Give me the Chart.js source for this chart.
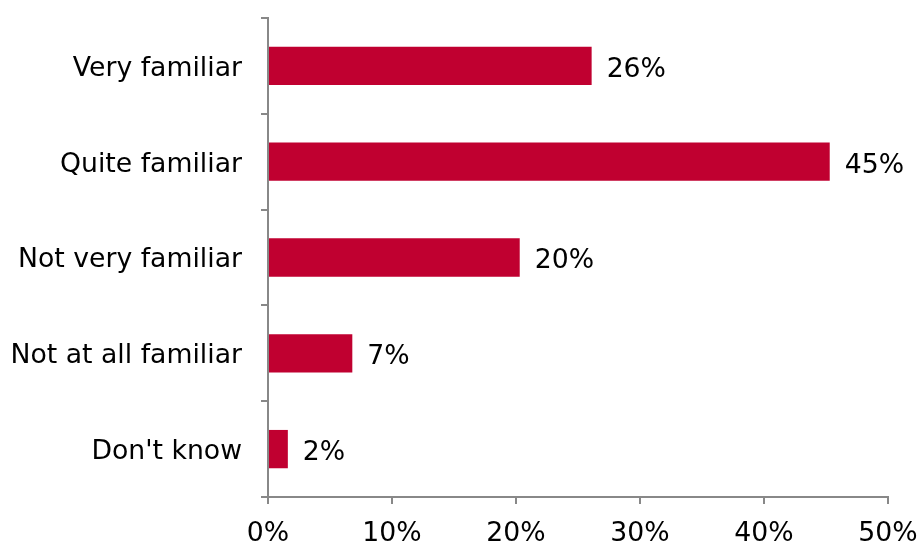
<!DOCTYPE html>
<html>
<head>
<meta charset="utf-8">
<script src="https://cdn.jsdelivr.net/npm/chart.js@4/dist/chart.umd.min.js"></script>
<style>
  html, body { margin: 0; padding: 0; background: #fff; }
  #wrap { width: 921px; height: 544px; }
</style>
</head>
<body>
<div id="wrap"><canvas id="bar" width="921" height="544"></canvas></div>
<script>
const categories = ['Very familiar', 'Quite familiar', 'Not very familiar', 'Not at all familiar', "Don't know"];
const shares = [26.1, 45.3, 20.3, 6.8, 1.6];
const xTicks = [0, 10, 20, 30, 40, 50];

const font = { family: 'DejaVu Sans, Verdana, sans-serif', size: 26.7 };
const axisGrey = '#888888';

// value labels after each bar end
const barLabels = {
  id: 'barLabels',
  afterDatasetsDraw(chart) {
    const ctx = chart.ctx;
    const meta = chart.getDatasetMeta(0);
    ctx.save();
    ctx.font = font.size + 'px ' + font.family;
    ctx.fillStyle = '#000';
    ctx.textAlign = 'left';
    ctx.textBaseline = 'middle';
    meta.data.forEach((bar, i) => {
      ctx.fillText(Math.round(shares[i]) + '%', bar.x + 15, bar.y + 4);
    });
    ctx.restore();
  }
};

new Chart(document.getElementById('bar'), {
  type: 'bar',
  data: {
    labels: categories,
    datasets: [{
      data: shares,
      backgroundColor: '#c00030',
      borderWidth: 0,
      barPercentage: 0.4,
      categoryPercentage: 1
    }]
  },
  options: {
    indexAxis: 'y',
    responsive: false,
    animation: false,
    layout: { padding: { top: 18, right: 33, left: 0, bottom: 0 } },
    plugins: { legend: { display: false }, tooltip: { enabled: false } },
    scales: {
      x: {
        min: 0, max: 50,
        afterBuildTicks: s => { s.ticks = xTicks.map(v => ({ value: v })); },
        afterFit: s => { s.height = 47; s.paddingLeft = 0; s.paddingRight = 0; },
        ticks: { color: '#000', font: font, padding: 14, maxRotation: 0, callback: v => v + '%' },
        grid: { drawOnChartArea: false, color: axisGrey, tickLength: 7, lineWidth: 2 },
        border: { color: axisGrey, width: 2 }
      },
      y: {
        afterFit: s => { s.width = 268; s.paddingTop = 0; s.paddingBottom = 0; },
        ticks: { color: '#000', font: font, padding: 19, labelOffset: 3 },
        grid: { drawOnChartArea: false, offset: true, color: axisGrey, tickLength: 7, lineWidth: 2 },
        border: { color: axisGrey, width: 2 }
      }
    }
  },
  plugins: [barLabels]
});
</script>
</body>
</html>
